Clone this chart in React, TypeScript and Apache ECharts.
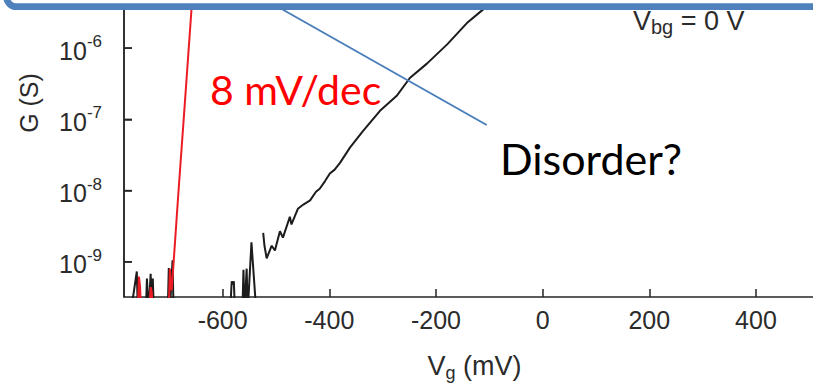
import React, { useEffect, useRef } from "react";
import * as echarts from "echarts";

// ---- data ----
const xTickValues = [-600, -400, -200, 0, 200, 400];
const yTickExponents = [-9, -8, -7, -6];

// black trace, in pieces (V_g in mV, G in S)
const blackNoiseA: [number, number][] = [
  [-772, 2e-10], [-761, 7.3e-10], [-759, 2e-10], [-758, 5.6e-10], [-756, 2e-10],
  [-744, 2e-10], [-742, 5.8e-10], [-739, 2e-10], [-735, 6.8e-10], [-733, 2e-10],
  [-731, 5.8e-10], [-729, 2e-10],
  [-703, 2e-10], [-701, 8.2e-10], [-699, 2e-10], [-694, 1.05e-9], [-692, 2e-10],
];
const blackNoiseB: [number, number][] = [
  [-586, 2e-10], [-583, 5.3e-10], [-581, 4.8e-10], [-579, 5.3e-10], [-577, 2e-10],
  [-563, 2e-10], [-561, 7.7e-10], [-559, 2e-10], [-555, 8.0e-10], [-553, 2e-10],
  [-546, 1.87e-9], [-537, 2e-10],
];
const blackMain: [number, number][] = [
  [-524, 2.55e-9], [-521.6, 1.68e-9], [-517.5, 1.12e-9], [-508, 1.68e-9], [-502, 1.44e-9],
  [-492.6, 2.68e-9], [-487, 2.18e-9], [-474, 4.28e-9], [-471, 3.34e-9], [-459, 5.55e-9],
  [-448, 6.42e-9], [-436, 7.28e-9], [-425, 9.64e-9], [-418, 1.06e-8], [-408, 1.36e-8],
  [-399, 1.74e-8], [-390, 1.97e-8], [-380, 2.45e-8], [-361, 4.04e-8], [-337, 6.86e-8],
  [-305, 1.32e-7], [-273, 2.17e-7], [-249, 3.81e-7], [-217, 6.07e-7], [-179, 1.13e-6],
  [-142, 2.25e-6], [-112, 3.48e-6], [-80, 5.55e-6],
];

// red trace
const redNoiseA: [number, number][] = [
  [-759, 2e-10], [-757, 6.2e-10], [-755, 4.6e-10], [-753, 2e-10],
];
const redNoiseB: [number, number][] = [
  [-738, 2e-10], [-735, 4.4e-10], [-733, 3.8e-10], [-731, 2e-10],
];
const redMain: [number, number][] = [
  [-701, 2e-10], [-699, 8.0e-10], [-697, 4.0e-10], [-695.4, 4.14e-10],
  [-683, 9.33e-9], [-670, 2.1e-7], [-658.5, 3.48e-6], [-654, 1.0e-5],
];

const X_MIN = -785;
const X_MAX = 507;
const Y_MIN = 3.2e-10;
const Y_MAX = 4.75e-6;

const AXIS_COLOR = "#262626";
const TEXT_COLOR = "#2b2b2b";
const BLACK = "#1c1c1c";
const RED = "#ec1c24";
const BLUE = "#4a7ebb";

export default function App() {
  const ref = useRef<HTMLDivElement>(null);

  useEffect(() => {
    if (!ref.current) return;
    const chart = echarts.init(ref.current, undefined, { renderer: "svg" });

    const lineSeries = (data: [number, number][], color: string, z: number) => ({
      type: "line",
      data,
      symbol: "none",
      clip: true,
      z,
      lineStyle: { color, width: 2 },
      silent: true,
    });

    const staticGraphics: any[] = [
      {
        type: "text",
        x: 29,
        y: 103,
        rotation: Math.PI / 2,
        style: {
          text: "G (S)",
          fill: TEXT_COLOR,
          font: '25px "Liberation Sans"',
          align: "center",
          verticalAlign: "middle",
        },
      },
      {
        type: "text",
        x: 633,
        y: 7,
        z: 120,
        style: {
          text: "{v|V}{s|bg}{n| = 0 V}",
          fill: TEXT_COLOR,
          align: "left",
          verticalAlign: "top",
          rich: {
            v: { font: '27px "Liberation Sans"', fill: TEXT_COLOR, lineHeight: 30, verticalAlign: "top" },
            s: { font: '20px "Liberation Sans"', fill: TEXT_COLOR, lineHeight: 22, verticalAlign: "bottom", padding: [14, 0, 0, 0] },
            n: { font: '27px "Liberation Sans"', fill: TEXT_COLOR, lineHeight: 30, verticalAlign: "top" },
          },
        },
      },
      {
        type: "text",
        x: 210,
        y: 89,
        style: {
          text: "8 mV/dec",
          fill: "#ff0000",
          font: '41px "Lato"',
          align: "left",
          verticalAlign: "middle",
        },
      },
      {
        type: "text",
        x: 500,
        y: 158,
        style: {
          text: "Disorder?",
          fill: "#000000",
          font: '43px "Lato"',
          align: "left",
          verticalAlign: "middle",
        },
      },
      {
        type: "line",
        shape: { x1: 281.7, y1: 9, x2: 486.7, y2: 125 },
        style: { stroke: BLUE, lineWidth: 2 },
        z: 100,
      },
      {
        type: "rect",
        shape: { x: 6.5, y: -60, width: 900, height: 66.7, r: 10 },
        style: { fill: "#ffffff", stroke: "#4f81bd", lineWidth: 6.7 },
        z: 101,
      },
    ];

    chart.setOption({
      animation: false,
      backgroundColor: "#ffffff",
      grid: { left: 124, right: 0, top: 0, bottom: 79, containLabel: false },
      xAxis: {
        type: "value",
        position: "bottom",
        min: X_MIN,
        max: X_MAX,
        splitNumber: 6,
        splitLine: { show: false },
        axisLine: { show: true, onZero: false, lineStyle: { color: AXIS_COLOR, width: 1.5 } },
        axisTick: { show: true, inside: true, length: 8, lineStyle: { color: AXIS_COLOR, width: 1.5 } },
        axisLabel: {
          show: true,
          margin: 10,
          color: TEXT_COLOR,
          fontFamily: "Liberation Sans",
          fontSize: 25,
          showMinLabel: false,
          showMaxLabel: false,
          formatter: (v: number) => (xTickValues.includes(Math.round(v)) ? String(Math.round(v)) : ""),
        },
        name: "{v|V}{s|g}{n| (mV)}",
        nameLocation: "middle",
        nameGap: 55,
        nameTextStyle: {
          color: TEXT_COLOR,
          fontFamily: "Liberation Sans",
          padding: [0, 0, 0, 12],
          rich: {
            v: { fontSize: 27, fontFamily: "Liberation Sans", color: TEXT_COLOR, lineHeight: 30, verticalAlign: "top" },
            s: { fontSize: 18, fontFamily: "Liberation Sans", color: TEXT_COLOR, lineHeight: 20, verticalAlign: "bottom", padding: [12, 0, 0, 0] },
            n: { fontSize: 27, fontFamily: "Liberation Sans", color: TEXT_COLOR, lineHeight: 30, verticalAlign: "top" },
          },
        },
      },
      yAxis: {
        type: "log",
        position: "left",
        logBase: 10,
        min: Y_MIN,
        max: Y_MAX,
        splitLine: { show: false },
        axisLine: { show: true, onZero: false, lineStyle: { color: AXIS_COLOR, width: 1.5 } },
        axisTick: { show: true, inside: true, length: 8, lineStyle: { color: AXIS_COLOR, width: 1.5 } },
        axisLabel: {
          show: true,
          margin: 22,
          showMinLabel: false,
          showMaxLabel: false,
          formatter: (v: number) => {
            const e = Math.log10(v);
            const r = Math.round(e);
            if (Math.abs(e - r) > 0.01 || !yTickExponents.includes(r)) return "";
            return `{b|10}{s|${r}}`;
          },
          rich: {
            b: { fontSize: 25, fontFamily: "Liberation Sans", color: TEXT_COLOR, lineHeight: 30, verticalAlign: "bottom" },
            s: { fontSize: 17, fontFamily: "Liberation Sans", color: TEXT_COLOR, lineHeight: 20, verticalAlign: "top", padding: [0, 0, 20, 0] },
          },
        },
      },
      series: [
        lineSeries(blackNoiseA, BLACK, 2),
        lineSeries(blackNoiseB, BLACK, 2),
        lineSeries(blackMain, BLACK, 2),
        lineSeries(redNoiseA, RED, 3),
        lineSeries(redNoiseB, RED, 3),
        lineSeries(redMain, RED, 3),
      ],
      graphic: staticGraphics,
    });

    // y axis line and ticks as thin filled rects, placed through the library's own scales
    const toNum = (v: any) => (Array.isArray(v) ? Number(v[0]) : Number(v));
    let xLeft = toNum(chart.convertToPixel({ xAxisIndex: 0 }, X_MIN));
    if (!isFinite(xLeft)) xLeft = 124;
    const yPix = (val: number) => {
      const p = chart.convertToPixel({ yAxisIndex: 0 }, val) as any;
      const n = Array.isArray(p) ? Number(p[1]) : Number(p);
      return n;
    };
    let yTop = yPix(Y_MAX);
    let yBottom = yPix(Y_MIN);
    if (!isFinite(yTop)) yTop = 0;
    if (!isFinite(yBottom)) yBottom = 308;
    const axisGraphics: any[] = [
      {
        type: "rect",
        shape: { x: xLeft - 0.75, y: Math.min(yTop, yBottom), width: 1.5, height: Math.abs(yBottom - yTop) },
        style: { fill: AXIS_COLOR },
        z: 99,
      },
      ...yTickExponents
        .map((e) => yPix(Math.pow(10, e)))
        .filter((yy) => isFinite(yy))
        .map((yy) => ({
          type: "rect",
          shape: { x: xLeft, y: yy - 0.75, width: 8, height: 1.5 },
          style: { fill: AXIS_COLOR },
          z: 99,
        })),
    ];
    chart.setOption({ graphic: [...staticGraphics, ...axisGraphics] });

    return () => chart.dispose();
  }, []);

  return (
    <div
      ref={ref}
      style={{ position: "absolute", left: 0, top: 0, width: 813, height: 387 }}
    />
  );
}
